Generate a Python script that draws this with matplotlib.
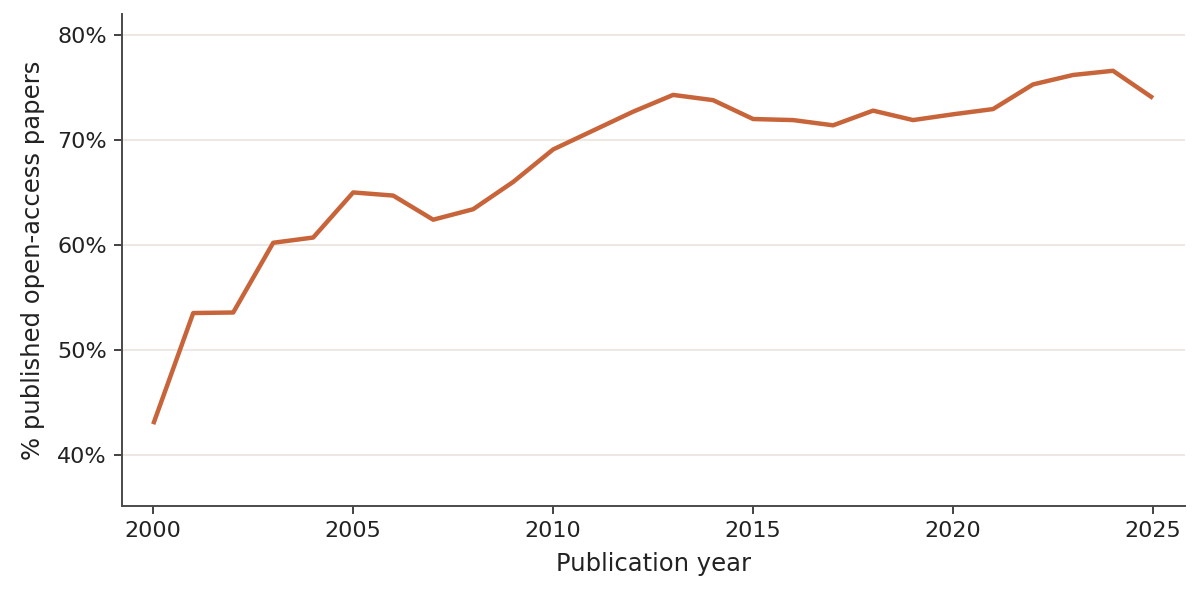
import matplotlib.pyplot as plt
from matplotlib.ticker import FuncFormatter

years = list(range(2000, 2026))
oa_share = [42.9, 53.5, 53.55, 60.2, 60.7, 65.0, 64.7, 62.4, 63.4, 66.0,
            69.1, 70.9, 72.7, 74.3, 73.8, 72.0, 71.9, 71.4, 72.8, 71.9,
            72.45, 72.95, 75.3, 76.2, 76.6, 74.0]
y_ticks = [40, 50, 60, 70, 80]
x_ticks = [2000, 2005, 2010, 2015, 2020, 2025]

fig = plt.figure(figsize=(12, 5.9), dpi=100)
ax = fig.add_axes([0.1017, 0.1424, 0.8858, 0.8336])

ax.plot(years, oa_share, color='#c8643a', linewidth=3.2, solid_capstyle='butt')

ax.set_xlim(1999.22, 2025.8)
ax.set_ylim(35.1, 82)
ax.set_yticks(y_ticks)
ax.set_xticks(x_ticks)
ax.yaxis.set_major_formatter(FuncFormatter(lambda v, p: f'{v:.0f}%'))

ax.grid(axis='y', color='#ebe4e0', linewidth=1.2)
ax.set_axisbelow(True)
for side in ['top', 'right']:
    ax.spines[side].set_visible(False)
for side in ['left', 'bottom']:
    ax.spines[side].set_color('#4a4a4a')
    ax.spines[side].set_linewidth(1.4)
ax.tick_params(labelsize=16, colors='#222222', length=6, width=1.2, pad=5)

ax.set_xlabel('Publication year', fontsize=17.5, color='#222222', labelpad=8)
ax.set_ylabel('% published open-access papers', fontsize=17.5, color='#222222', labelpad=9)

fig.savefig('out.png', dpi=100)
